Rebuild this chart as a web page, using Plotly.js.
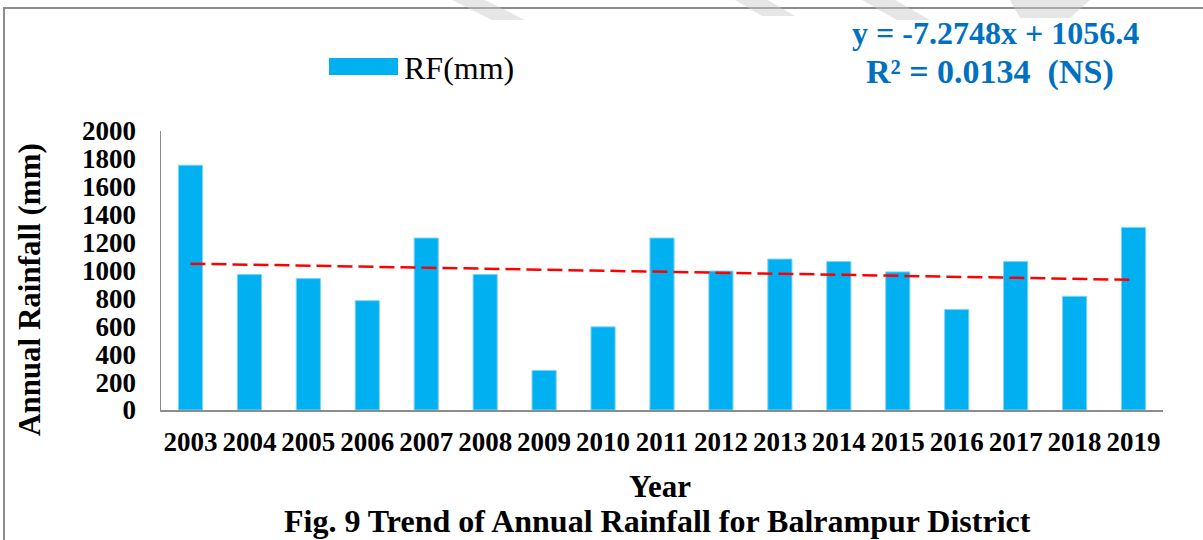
<!DOCTYPE html>
<html>
<head>
<meta charset="utf-8">
<script src="https://cdn.plot.ly/plotly-3.0.1.min.js"></script>
<style>html,body{margin:0;padding:0;background:#fff;}#chart{width:1203px;height:540px;}</style>
</head>
<body>
<div id="chart"></div>
<script>
// Data
const years = ["2003","2004","2005","2006","2007","2008","2009","2010","2011","2012","2013","2014","2015","2016","2017","2018","2019"];
const rainfall = [1755, 972, 942, 784, 1233, 972, 283, 596, 1233, 996, 1082, 1064, 990, 720, 1064, 815, 1309];
const trendYears = ["2003", "2019"];
const trendValues = [1049, 933];
const yTicks = [0, 200, 400, 600, 800, 1000, 1200, 1400, 1600, 1800, 2000];
const seriesName = "RF(mm)";
const equationText = "y = -7.2748x + 1056.4";
const r2Text = "R² = 0.0134\u00A0\u00A0(NS)";

const W = 1203, H = 540;
const L = 161, R = 40, T = 131, B = 130;
const pw = W - L - R, ph = H - T - B;
const px = x => (x - L) / pw;          // pixel -> paper x
const py = y => (H - B - y) / ph;      // pixel -> paper y

const serif = "'Liberation Serif', 'Times New Roman', serif";

const traces = [
  {
    type: "bar",
    x: years,
    y: rainfall,
    name: seriesName,
    marker: {color: "#00B0F0", line: {color: "#7fd4f5", width: 1}},
    hoverinfo: "x+y"
  },
  {
    type: "scatter",
    mode: "lines",
    x: trendYears,
    y: trendValues,
    line: {color: "#FF0000", width: 2.5, dash: "15px,6px"},
    showlegend: false,
    hoverinfo: "skip"
  }
];

const wm = "rgba(200,200,200,0.45)";
const shapes = [
  // frame
  {type: "rect", xref: "paper", yref: "paper", x0: px(4), x1: px(1215), y0: py(560), y1: py(8),
   line: {color: "#8c8c8c", width: 2}, fillcolor: "rgba(0,0,0,0)", layer: "below"},
  // faint watermark stripes at the top
  {type: "path", xref: "paper", yref: "paper", layer: "below", line: {width: 0}, fillcolor: wm,
   path: `M ${px(452)} ${py(0)} L ${px(485)} ${py(0)} L ${px(525)} ${py(20)} L ${px(492)} ${py(20)} Z`},
  {type: "path", xref: "paper", yref: "paper", layer: "below", line: {width: 0}, fillcolor: wm,
   path: `M ${px(735)} ${py(0)} L ${px(768)} ${py(0)} L ${px(795)} ${py(16)} L ${px(762)} ${py(16)} Z`},
  {type: "path", xref: "paper", yref: "paper", layer: "below", line: {width: 0}, fillcolor: wm,
   path: `M ${px(862)} ${py(0)} L ${px(895)} ${py(0)} L ${px(930)} ${py(20)} L ${px(897)} ${py(20)} Z`},
  {type: "path", xref: "paper", yref: "paper", layer: "below", line: {width: 0}, fillcolor: wm,
   path: `M ${px(1010)} ${py(0)} L ${px(1090)} ${py(0)} L ${px(1070)} ${py(18)} L ${px(1020)} ${py(18)} Z`},
  // legend swatch
  {type: "rect", xref: "paper", yref: "paper", x0: px(329), x1: px(398), y0: py(75), y1: py(58),
   line: {width: 0}, fillcolor: "#00B0F0"}
];

const annotations = [
  {xref: "paper", yref: "paper", x: px(402), y: py(68), xanchor: "left", yanchor: "middle",
   text: seriesName, showarrow: false, font: {family: serif, size: 32, color: "#000"}},
  {xref: "paper", yref: "paper", x: px(995), y: py(33), xanchor: "center", yanchor: "middle",
   text: "<b>" + equationText + "</b>", showarrow: false, font: {family: serif, size: 32, color: "#0070C0"}},
  {xref: "paper", yref: "paper", x: px(990), y: py(72), xanchor: "center", yanchor: "middle",
   text: "<b>" + r2Text + "</b>", showarrow: false, font: {family: serif, size: 34, color: "#0070C0"}},
  {xref: "paper", yref: "paper", x: px(660), y: py(486), xanchor: "center", yanchor: "middle",
   text: "<b>Year</b>", showarrow: false, font: {family: serif, size: 31, color: "#000"}},
  {xref: "paper", yref: "paper", x: px(657), y: py(521), xanchor: "center", yanchor: "middle",
   text: "<b>Fig. 9 Trend of Annual Rainfall for Balrampur District</b>", showarrow: false,
   font: {family: serif, size: 32, color: "#000"}},
  {xref: "paper", yref: "paper", x: px(29), y: py(290), xanchor: "center", yanchor: "middle", textangle: -90,
   text: "<b>Annual Rainfall (mm)</b>", showarrow: false, font: {family: serif, size: 31, color: "#000"}}
];

const layout = {
  width: W, height: H,
  margin: {l: L, r: R, t: T, b: B, pad: 0},
  paper_bgcolor: "#ffffff",
  plot_bgcolor: "#ffffff",
  showlegend: false,
  bargap: 0.59,
  xaxis: {
    type: "category",
    showgrid: false, zeroline: false,
    showline: true, linecolor: "#8c8c8c", linewidth: 2,
    ticks: "", ticklabelstandoff: 7,
    tickfont: {family: serif, size: 27, color: "#000", weight: "bold"},
    fixedrange: true
  },
  yaxis: {
    range: [0, 2000],
    tickvals: yTicks,
    ticktext: yTicks.map(String),
    showgrid: false, zeroline: false,
    showline: true, linecolor: "#8c8c8c", linewidth: 1.5,
    ticks: "", ticklabelstandoff: 18,
    tickfont: {family: serif, size: 27, color: "#000", weight: "bold"},
    fixedrange: true
  },
  shapes: shapes,
  annotations: annotations
};

Plotly.newPlot("chart", traces, layout, {displayModeBar: false, staticPlot: true});
</script>
</body>
</html>
